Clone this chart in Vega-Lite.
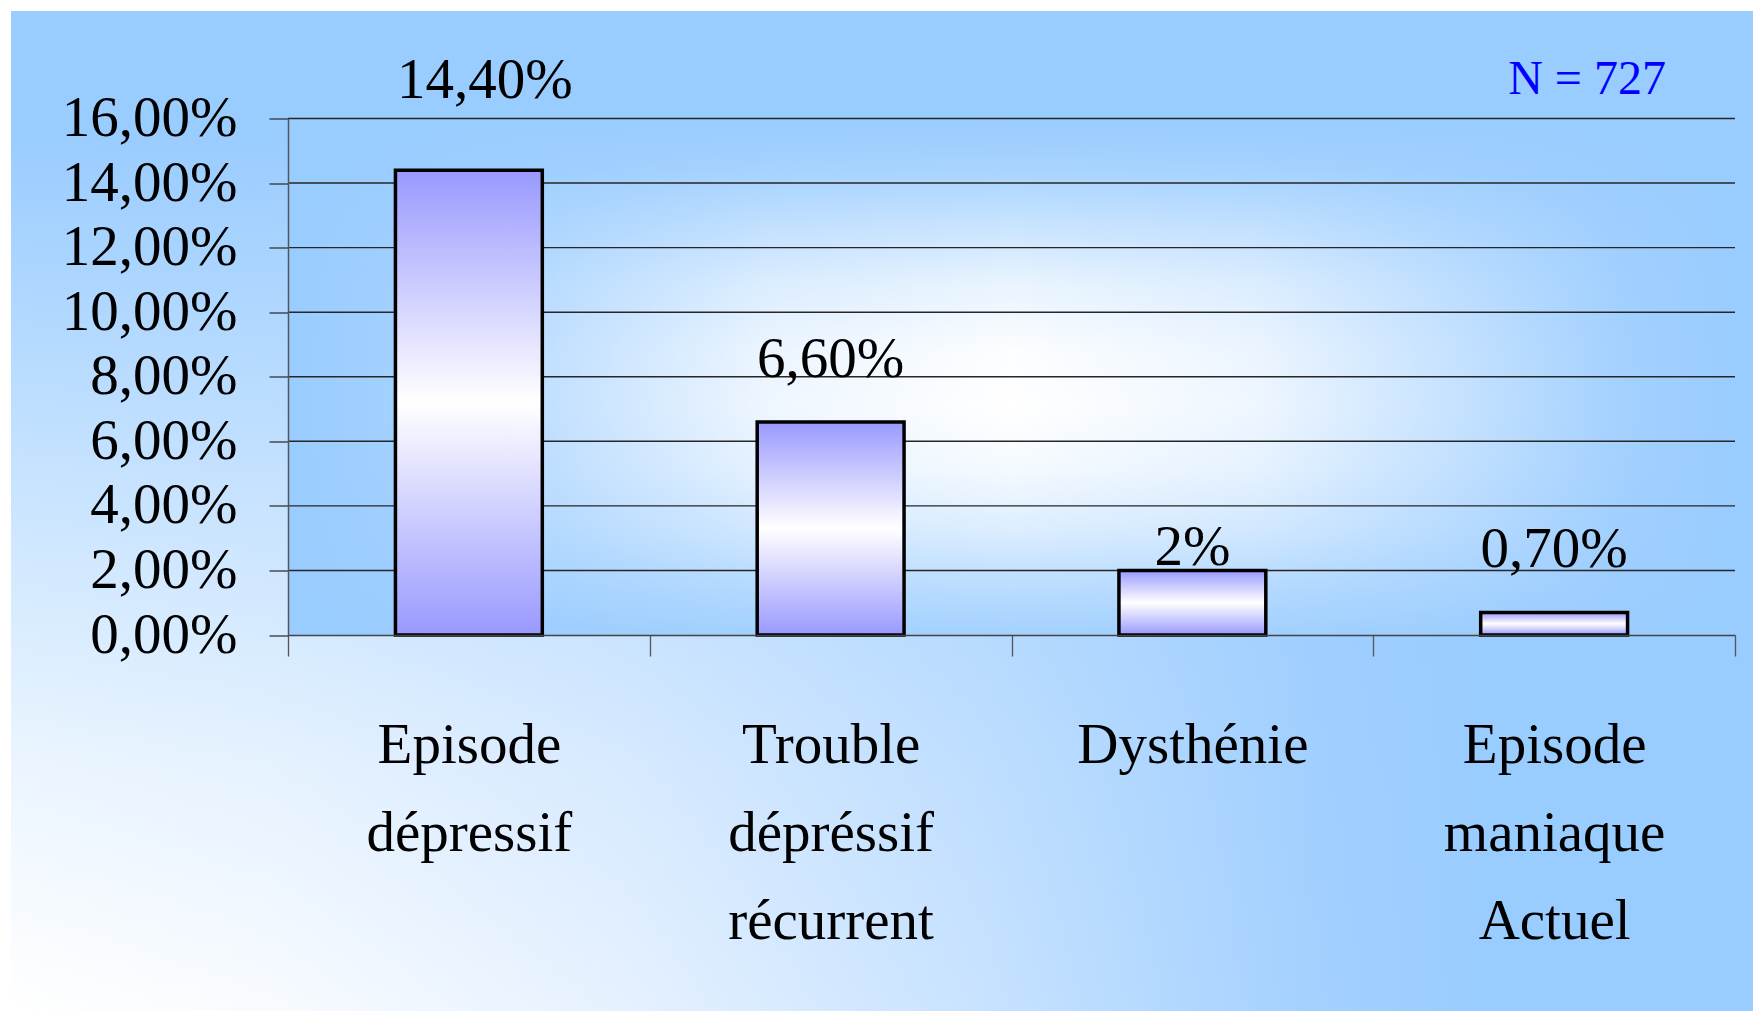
{
  "$schema": "https://vega.github.io/schema/vega-lite/v6.json",
  "width": 1447,
  "height": 516.5,
  "autosize": {"type": "none"},
  "padding": {"left": 288, "top": 118.5, "right": 18, "bottom": 380},
  "background": "#FFFFFF",
  "config": {"view": {"stroke": null}},
  "resolve": {"scale": {"x": "independent"}},
  "layer": [
    {
      "data": {"values": [{"note": "N = 727"}]},
      "layer": [
        {
          "mark": {"type": "rect", "clip": false, "fill": {"gradient": "linear", "x1": 0, "y1": 0, "x2": 1, "y2": 0, "stops": [
            {"offset": 0, "color": "#FFFFFF"},
            {"offset": 0.15, "color": "#F8FBFF"},
            {"offset": 0.35, "color": "#E6F1FF"},
            {"offset": 0.55, "color": "#C9E3FF"},
            {"offset": 0.75, "color": "#A3D0FF"},
            {"offset": 0.85, "color": "#99CCFF"},
            {"offset": 1, "color": "#99CCFF"}]}},
          "encoding": {
            "x": {"datum": -0.7657, "type": "quantitative", "scale": {"domain": [0, 4], "nice": false, "zero": false}, "axis": null},
            "x2": {"datum": 4.05},
            "y": {"datum": 19.33, "type": "quantitative", "scale": {"domain": [0, 16], "nice": false}, "axis": {"title": null}},
            "y2": {"datum": -11.65}
          }
        },
        {
          "mark": {"type": "rect", "clip": false, "fill": {"gradient": "linear", "x1": 0, "y1": 0, "x2": 0, "y2": 1, "stops": [
            {"offset": 0, "color": "rgba(153,204,255,1)"},
            {"offset": 0.12, "color": "rgba(153,204,255,1)"},
            {"offset": 0.5, "color": "rgba(153,204,255,0.5)"},
            {"offset": 0.75, "color": "rgba(153,204,255,0.2)"},
            {"offset": 1, "color": "rgba(153,204,255,0)"}]}},
          "encoding": {
            "x": {"datum": -0.7657, "type": "quantitative", "scale": {"domain": [0, 4], "nice": false, "zero": false}, "axis": null},
            "x2": {"datum": 4.05},
            "y": {"datum": 19.33, "type": "quantitative", "scale": {"domain": [0, 16], "nice": false}, "axis": {"title": null}},
            "y2": {"datum": -11.65}
          }
        },
        {
          "mark": {"type": "rect", "clip": false, "fill": {"gradient": "linear", "x1": 0, "y1": 0, "x2": 1, "y2": 0, "stops": [
            {"offset": 0, "color": "#99CCFF"},
            {"offset": 0.08, "color": "#A4D1FF"},
            {"offset": 0.2, "color": "#C8E3FF"},
            {"offset": 0.33, "color": "#EEF6FF"},
            {"offset": 0.5, "color": "#FFFFFF"},
            {"offset": 0.67, "color": "#EEF6FF"},
            {"offset": 0.8, "color": "#C8E3FF"},
            {"offset": 0.92, "color": "#A4D1FF"},
            {"offset": 1, "color": "#99CCFF"}]}},
          "encoding": {
            "x": {"datum": 0, "type": "quantitative", "scale": {"domain": [0, 4], "nice": false, "zero": false}, "axis": null},
            "x2": {"datum": 4},
            "y": {"datum": 16, "type": "quantitative", "scale": {"domain": [0, 16], "nice": false}, "axis": {"title": null}},
            "y2": {"datum": 0}
          }
        },
        {
          "mark": {"type": "rect", "clip": false, "fill": {"gradient": "linear", "x1": 0, "y1": 0, "x2": 0, "y2": 1, "stops": [
            {"offset": 0, "color": "rgba(153,204,255,1)"},
            {"offset": 0.1, "color": "rgba(153,204,255,0.85)"},
            {"offset": 0.2, "color": "rgba(153,204,255,0.55)"},
            {"offset": 0.32, "color": "rgba(153,204,255,0.22)"},
            {"offset": 0.45, "color": "rgba(153,204,255,0.03)"},
            {"offset": 0.56, "color": "rgba(153,204,255,0)"},
            {"offset": 0.68, "color": "rgba(153,204,255,0.1)"},
            {"offset": 0.8, "color": "rgba(153,204,255,0.35)"},
            {"offset": 0.92, "color": "rgba(153,204,255,0.7)"},
            {"offset": 1, "color": "rgba(153,204,255,0.9)"}]}},
          "encoding": {
            "x": {"datum": 0, "type": "quantitative", "scale": {"domain": [0, 4], "nice": false, "zero": false}, "axis": null},
            "x2": {"datum": 4},
            "y": {"datum": 16, "type": "quantitative", "scale": {"domain": [0, 16], "nice": false}, "axis": {"title": null}},
            "y2": {"datum": 0}
          }
        },
        {
          "mark": {"type": "text", "clip": false, "font": "Liberation Serif", "fontSize": 48, "color": "#0000FF", "align": "center", "baseline": "alphabetic"},
          "encoding": {
            "x": {"datum": 3.591, "type": "quantitative", "scale": {"domain": [0, 4], "nice": false, "zero": false}, "axis": null},
            "y": {"datum": 16.76, "type": "quantitative", "scale": {"domain": [0, 16], "nice": false}, "axis": {"title": null}},
            "text": {"field": "note"}
          }
        }
      ]
    },
    {
      "data": {"values": [
        {"cat": "Episode dépressif", "value": 14.4, "label": "14,40%"},
        {"cat": "Trouble dépréssif récurrent", "value": 6.6, "label": "6,60%"},
        {"cat": "Dysthénie", "value": 2, "label": "2%"},
        {"cat": "Episode maniaque Actuel", "value": 0.7, "label": "0,70%"}
      ]},
      "layer": [
        {
          "data": {"values": [{"g": 2}, {"g": 4}, {"g": 6}, {"g": 8}, {"g": 10}, {"g": 12}, {"g": 14}, {"g": 16}]},
          "mark": {"type": "rule", "color": "#262626", "strokeWidth": 1.4},
          "encoding": {
            "y": {"field": "g", "type": "quantitative", "scale": {"domain": [0, 16], "nice": false}, "axis": {"title": null}}
          }
        },
        {
          "mark": {"type": "bar", "width": {"band": 0.406}, "stroke": "#000000", "strokeWidth": 3.5, "fill": {"gradient": "linear", "x1": 0, "y1": 0, "x2": 0, "y2": 1, "stops": [
            {"offset": 0, "color": "#9999FF"},
            {"offset": 0.5, "color": "#FFFFFF"},
            {"offset": 1, "color": "#9999FF"}]}},
          "encoding": {
            "x": {"field": "cat", "type": "nominal", "sort": null,
              "scale": {"domain": ["Episode dépressif", "Trouble dépréssif récurrent", "Dysthénie", "Episode maniaque Actuel"], "paddingInner": 0, "paddingOuter": 0},
              "axis": {"title": null, "tickBand": "extent", "tickSize": 21, "tickColor": "#555555", "tickWidth": 1.3, "domainColor": "#444444", "domainWidth": 1.5, "labelAngle": 0, "labelExpr": "datum.extra || !isValid(datum.value) ? '' : split(datum.value, ' ')", "labelFont": "Liberation Serif", "labelFontSize": 57, "labelColor": "#000000", "labelLineHeight": 88, "labelBaseline": "alphabetic", "labelPadding": 106, "labelLimit": 0, "labelOverlap": false, "zindex": 1}},
            "y": {"field": "value", "type": "quantitative", "scale": {"domain": [0, 16], "nice": false},
              "axis": {"title": null, "values": [0, 2, 4, 6, 8, 10, 12, 14, 16], "grid": false, "labelExpr": "replace(format(datum.value, '.2f'), '.', ',') + '%'", "labelFont": "Liberation Serif", "labelFontSize": 57, "labelColor": "#000000", "labelPadding": 32, "labelLimit": 0, "labelBaseline": "middle", "tickSize": 19, "tickColor": "#333333", "tickWidth": 1.3, "domainColor": "#555555", "domainWidth": 1.5, "zindex": 1}}
          }
        },
        {
          "transform": [{"filter": "datum.cat == 'Episode dépressif'"}],
          "mark": {"type": "text", "font": "Liberation Serif", "fontSize": 57, "color": "#000000", "align": "center", "baseline": "alphabetic", "dy": -72, "dx": 16},
          "encoding": {
            "x": {"field": "cat", "type": "nominal", "sort": null},
            "y": {"field": "value", "type": "quantitative", "scale": {"domain": [0, 16], "nice": false}, "axis": {"title": null}},
            "text": {"field": "label"}
          }
        },
        {
          "transform": [{"filter": "datum.cat == 'Trouble dépréssif récurrent' || datum.cat == 'Episode maniaque Actuel'"}],
          "mark": {"type": "text", "font": "Liberation Serif", "fontSize": 57, "color": "#000000", "align": "center", "baseline": "alphabetic", "dy": -45},
          "encoding": {
            "x": {"field": "cat", "type": "nominal", "sort": null},
            "y": {"field": "value", "type": "quantitative", "scale": {"domain": [0, 16], "nice": false}, "axis": {"title": null}},
            "text": {"field": "label"}
          }
        },
        {
          "transform": [{"filter": "datum.cat == 'Dysthénie'"}],
          "mark": {"type": "text", "font": "Liberation Serif", "fontSize": 57, "color": "#000000", "align": "center", "baseline": "alphabetic", "dy": -5},
          "encoding": {
            "x": {"field": "cat", "type": "nominal", "sort": null},
            "y": {"field": "value", "type": "quantitative", "scale": {"domain": [0, 16], "nice": false}, "axis": {"title": null}},
            "text": {"field": "label"}
          }
        }
      ]
    }
  ]
}
